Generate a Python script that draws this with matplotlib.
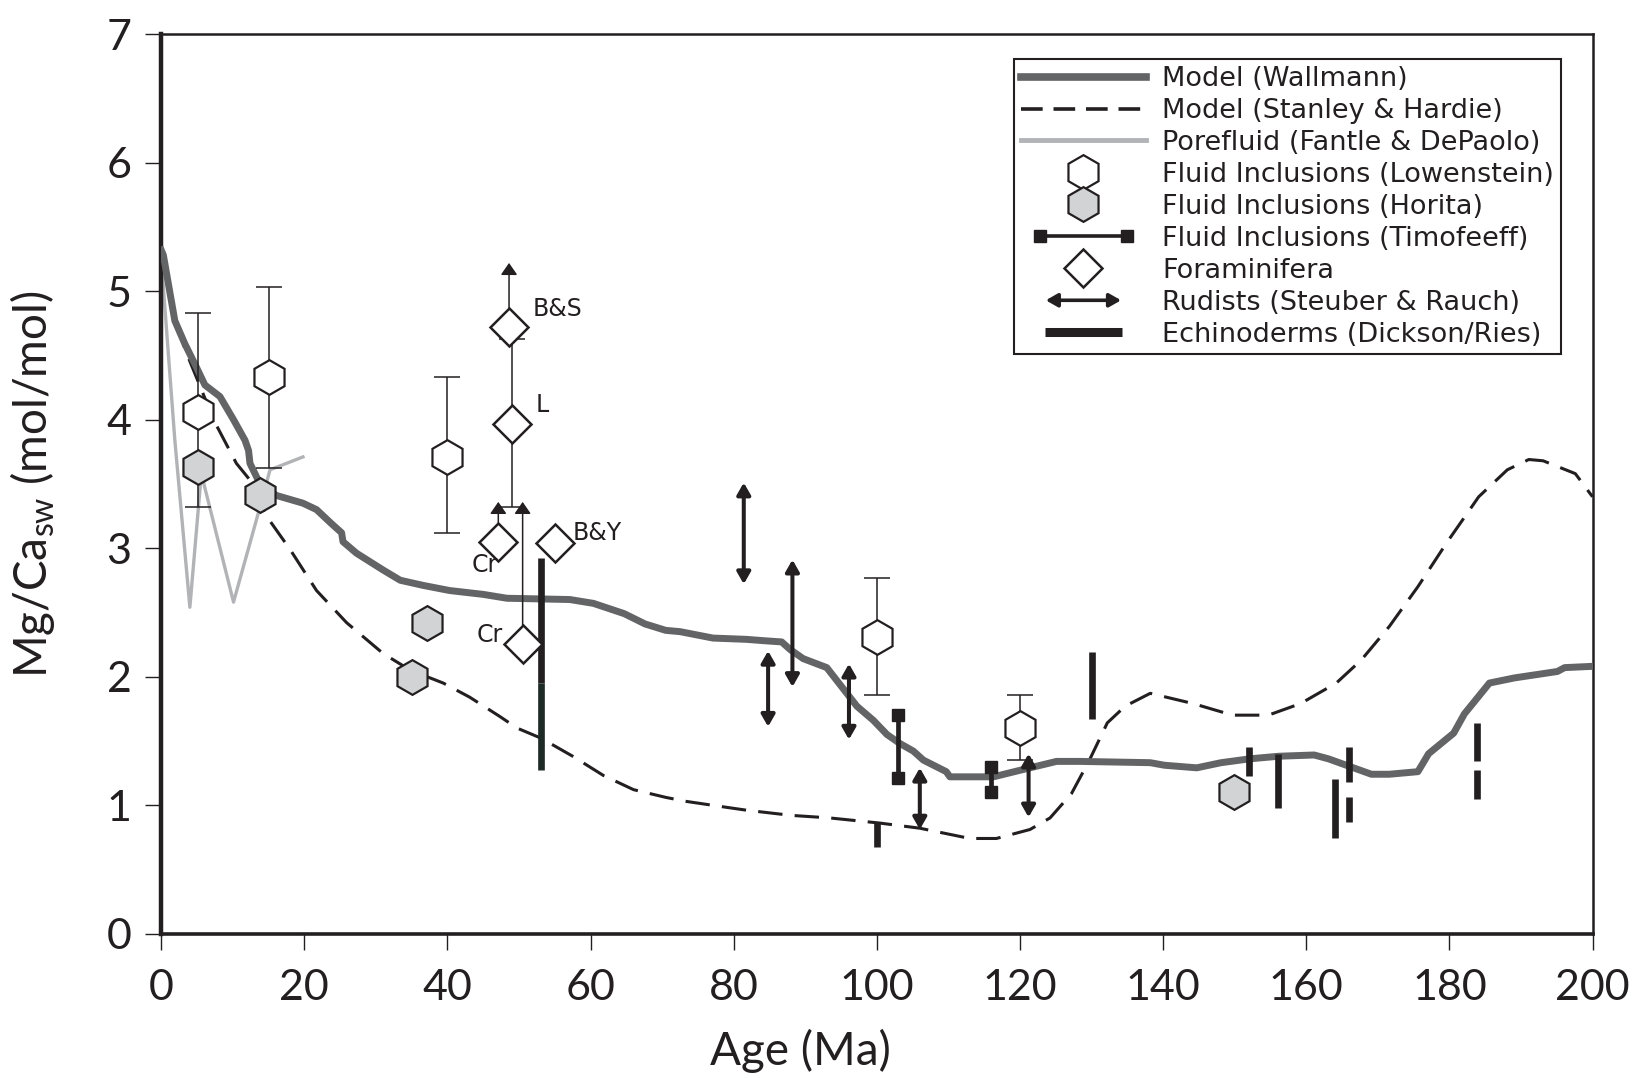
import matplotlib
matplotlib.use("Agg")
import matplotlib.pyplot as plt
from matplotlib.lines import Line2D
from matplotlib.patches import FancyArrowPatch
from matplotlib.legend_handler import HandlerBase

# ---------------- data ----------------
wall_age = [0, 0.3, 1.9, 3.3, 4.9, 6.1, 8.2, 10.1, 11.7, 12.2, 12.4, 13.8, 16.1, 19.8, 21.7, 23.8,
            25.2, 25.4, 27.3, 31.0, 33.4, 36.6, 40.3, 45.0, 48.3, 57.1, 60.4, 64.7, 67.6, 70.5,
            72.5, 77.1, 81.8, 84.1, 86.7, 87.9, 89.7, 93.0, 94.4, 95.8, 97.2, 99.5, 101.4, 103.2,
            105.1, 106.5, 109.7, 110.2, 116.3, 121.4, 125.1, 128.4, 138.2, 140.2, 144.7, 148.1,
            152.1, 156.1, 161.1, 163.1, 165.6, 169.1, 171.6, 175.6, 177.1, 180.6, 182.1, 185.6,
            189.1, 195.1, 196.1, 200]
wall_val = [5.32, 5.28, 4.77, 4.59, 4.41, 4.27, 4.18, 4.0, 3.84, 3.76, 3.66, 3.50, 3.41, 3.35, 3.30,
            3.19, 3.12, 3.05, 2.96, 2.83, 2.75, 2.71, 2.67, 2.64, 2.61, 2.60, 2.57, 2.49, 2.41, 2.36,
            2.35, 2.30, 2.29, 2.28, 2.27, 2.21, 2.14, 2.07, 1.97, 1.87, 1.77, 1.66, 1.55, 1.48,
            1.42, 1.35, 1.26, 1.22, 1.22, 1.29, 1.34, 1.34, 1.33, 1.31, 1.29, 1.33,
            1.36, 1.38, 1.39, 1.36, 1.31, 1.24, 1.24, 1.26, 1.40, 1.56, 1.71, 1.95,
            1.99, 2.04, 2.07, 2.08]

sh_age = [0, 1.5, 3.3, 5.5, 7.3, 10.5, 12.4, 14.7, 18.0, 21.7, 25.9, 31.0, 34.8, 39.4, 43.1, 47.3,
          49.7, 53.1, 57.5, 61.8, 66.0, 70.5, 73.2, 79.3, 81.8, 88.0, 93.4, 100.4, 106.0, 113.0,
          116.7, 121.4, 124.2, 127.2, 129.7, 132.2, 134.7, 138.2, 144.2, 149.7, 154.7, 159.2,
          164.2, 167.7, 171.6, 175.6, 179.6, 184.1, 188.1, 191.1, 193.1, 197.6, 200]
sh_val = [5.3, 4.9, 4.55, 4.25, 4.0, 3.66, 3.53, 3.25, 2.99, 2.67, 2.42, 2.18, 2.05, 1.95, 1.84, 1.69,
          1.60, 1.52, 1.38, 1.23, 1.12, 1.06, 1.03, 0.98, 0.96, 0.92, 0.90, 0.86, 0.82, 0.74,
          0.74, 0.81, 0.90, 1.09, 1.35, 1.64, 1.77, 1.87, 1.79, 1.70, 1.70, 1.79,
          1.95, 2.13, 2.39, 2.70, 3.04, 3.40, 3.61, 3.69, 3.68, 3.58, 3.40]

pf_age = [0, 1.9, 4.0, 5.6, 10.1, 13.8, 15.2, 19.8]
pf_val = [5.25, 3.84, 2.54, 3.58, 2.58, 3.32, 3.61, 3.71]

low_age = [5.2, 15.0, 40.0, 100.0, 120.0]
low_val = [4.06, 4.33, 3.71, 2.31, 1.60]
low_lo = [3.32, 3.62, 3.12, 1.86, 1.35]
low_hi = [4.83, 5.03, 4.33, 2.77, 1.86]

hor_age = [5.2, 13.8, 37.1, 35.0, 149.9]
hor_val = [3.63, 3.41, 2.42, 2.00, 1.10]

tim_age = [103.0, 116.0]
tim_lo = [1.21, 1.105]
tim_hi = [1.70, 1.30]

foram_age = [48.6, 49.0, 47.1, 50.5, 55.0]
foram_val = [4.72, 3.97, 3.05, 2.25, 3.04]
foram_lab = ['B&S', 'L', 'Cr', 'Cr', 'B&Y']
foram_arrow_age = [48.6, 47.1, 50.5]
foram_arrow_from = [4.72, 3.05, 2.25]
foram_arrow_to = [5.22, 3.36, 3.36]
foram_err_age = [49.0]
foram_err_lo = [3.32]
foram_err_hi = [4.63]

rud_age = [81.4, 88.2, 84.8, 96.1, 106.0, 121.2]
rud_lo = [2.72, 1.92, 1.61, 1.51, 0.81, 0.905]
rud_hi = [3.51, 2.91, 2.20, 2.10, 1.29, 1.40]

ech_age = [53.0, 53.0, 100.0, 130.0, 152.0, 156.0, 164.0, 166.0, 166.0, 183.9, 183.9]
ech_lo = [1.95, 1.27, 0.67, 1.67, 1.23, 0.975, 0.74, 1.18, 0.87, 1.34, 1.05]
ech_hi = [2.92, 1.95, 0.86, 2.19, 1.45, 1.40, 1.20, 1.45, 1.06, 1.64, 1.27]
ech_col = ['#231f20', '#1d2a25', '#231f20', '#231f20', '#231f20', '#231f20', '#231f20',
           '#231f20', '#231f20', '#231f20', '#231f20']

x_ticks = [0, 20, 40, 60, 80, 100, 120, 140, 160, 180, 200]
y_ticks = [0, 1, 2, 3, 4, 5, 6, 7]

legend_labels = ['Model (Wallmann)', 'Model (Stanley & Hardie)', 'Porefluid (Fantle & DePaolo)',
                 'Fluid Inclusions (Lowenstein)', 'Fluid Inclusions (Horita)',
                 'Fluid Inclusions (Timofeeff)', 'Foraminifera', 'Rudists (Steuber & Rauch)',
                 'Echinoderms (Dickson/Ries)']

# ---------------- style ----------------
DARK = '#231f20'
WALL = '#636466'
PORE = '#b1b3b6'
GRAYFILL = '#d1d3d4'
AXFONT = 'Lato'
TXFONT = 'DejaVu Sans'

plt.rcParams['mathtext.fontset'] = 'custom'
plt.rcParams['mathtext.rm'] = AXFONT

fig = plt.figure(figsize=(16.32, 10.78), dpi=100)
ax = fig.add_axes([0.0988, 0.1340, 0.8770, 0.8342])

ax.plot(pf_age, pf_val, color=PORE, lw=2.4, zorder=2)
ax.plot(sh_age, sh_val, color=DARK, lw=2.2, ls=(0, (8, 4)), zorder=3)
ax.plot(wall_age, wall_val, color=WALL, lw=5.0, zorder=3, solid_joinstyle='round')

# echinoderms
for a, lo, hi, c in zip(ech_age, ech_lo, ech_hi, ech_col):
    ax.plot([a, a], [lo, hi], color=c, lw=4.8, solid_capstyle='butt', zorder=4)

# rudists
for a, lo, hi in zip(rud_age, rud_lo, rud_hi):
    ax.annotate('', xy=(a, hi), xytext=(a, lo),
                arrowprops=dict(arrowstyle='<|-|>,head_length=0.35,head_width=0.2',
                                mutation_scale=20, lw=2.9, color=DARK,
                                shrinkA=0, shrinkB=0), zorder=5)

# Timofeeff
for a, lo, hi in zip(tim_age, tim_lo, tim_hi):
    ax.plot([a, a], [lo, hi], color=DARK, lw=3.4, marker='s', ms=8.5,
            mfc=DARK, mec=DARK, zorder=5)

# Lowenstein fluid inclusions with error bars
yerr = [[v - l for v, l in zip(low_val, low_lo)], [h - v for v, h in zip(low_val, low_hi)]]
ax.errorbar(low_age, low_val, yerr=yerr, fmt='none', ecolor=DARK, elinewidth=1.1,
            capsize=9.7, capthick=1.1, zorder=5)
ax.plot(low_age, low_val, ls='none', marker='h', ms=25, mfc='white', mec=DARK, mew=1.6, zorder=7)

# Horita
ax.plot(hor_age, hor_val, ls='none', marker='h', ms=25, mfc=GRAYFILL, mec=DARK, mew=1.6, zorder=7)

# foraminifera arrows & error bar
for a, f, t in zip(foram_arrow_age, foram_arrow_from, foram_arrow_to):
    ax.annotate('', xy=(a, t), xytext=(a, f),
                arrowprops=dict(arrowstyle='-|>,head_length=0.36,head_width=0.25',
                                mutation_scale=20, lw=1.1, color=DARK,
                                shrinkA=0, shrinkB=0), zorder=5)
ax.errorbar(foram_err_age, [(l + h) / 2 for l, h in zip(foram_err_lo, foram_err_hi)],
            yerr=[(h - l) / 2 for l, h in zip(foram_err_lo, foram_err_hi)], fmt='none',
            ecolor=DARK, elinewidth=1.1, capsize=9.7, capthick=1.1, zorder=5)
ax.plot(foram_age, foram_val, ls='none', marker='D', ms=19, mfc='white', mec=DARK, mew=1.8, zorder=8)

lab_off = [(17, 13), (17, 13), (-19.5, -16.5), (-33, 7), (12.5, 7)]
for a, v, lab, off in zip(foram_age, foram_val, foram_lab, lab_off):
    t = ax.annotate(lab, xy=(a, v), xytext=off, textcoords='offset points', ha='left', va='center',
                    fontsize=17, family=TXFONT, color=DARK)
    t.set_zorder(12)

# axes styling
ax.set_xlim(0, 200)
ax.set_ylim(0, 7)
ax.set_xticks(x_ticks)
ax.set_yticks(y_ticks)
ax.tick_params(axis='both', direction='out', length=11.5, width=1.0, color=DARK,
               labelsize=31, labelcolor=DARK)
ax.tick_params(axis='x', pad=14)
ax.tick_params(axis='y', pad=10)
for lab in ax.get_xticklabels() + ax.get_yticklabels():
    lab.set_family(AXFONT)
ax.spines['left'].set_linewidth(3.2)
ax.spines['bottom'].set_linewidth(2.6)
ax.spines['top'].set_linewidth(1.8)
ax.spines['right'].set_linewidth(1.8)
for s in ax.spines.values():
    s.set_color(DARK)

ax.set_xlabel('Age (Ma)', family=AXFONT, fontsize=33, color=DARK)
ax.set_ylabel(r'Mg/Ca$_{\mathregular{sw}}$ (mol/mol)', family=AXFONT, fontsize=33, color=DARK)
ax.xaxis.set_label_coords(0.4466, -0.106)
ax.yaxis.set_label_coords(-0.073, 0.5)


# ---------------- legend ----------------
class HBar(HandlerBase):
    def __init__(self, frac, kind):
        super().__init__()
        self.frac = frac
        self.kind = kind

    def create_artists(self, legend, orig_handle, xdescent, ydescent, width, height, fontsize, trans):
        cx = 0.5 * width - xdescent
        cy = 0.5 * height - ydescent
        half = 0.5 * self.frac * width
        if self.kind == 'timo':
            ln = Line2D([cx - half, cx + half], [cy, cy], color=DARK, lw=2.6, marker='s', ms=8.5,
                        mfc=DARK, mec=DARK)
            ln.set_transform(trans)
            return [ln]
        if self.kind == 'arrow':
            ar = FancyArrowPatch((cx - half, cy), (cx + half, cy),
                                 arrowstyle='<|-|>,head_length=0.35,head_width=0.2',
                                 mutation_scale=20, lw=2.6, color=DARK, shrinkA=0, shrinkB=0)
            ar.set_transform(trans)
            return [ar]
        ln = Line2D([cx - half, cx + half], [cy, cy], color=DARK, lw=6.5, solid_capstyle='butt')
        ln.set_transform(trans)
        return [ln]


class TimoKey: pass
class RudKey: pass
class EchKey: pass

tk, rk, ek = TimoKey(), RudKey(), EchKey()
handles = [
    Line2D([], [], color=WALL, lw=5.5),
    Line2D([], [], color=DARK, lw=2.6, ls=(0, (6, 3))),
    Line2D([], [], color=PORE, lw=3.5),
    Line2D([], [], ls='none', marker='h', ms=25, mfc='white', mec=DARK, mew=1.6),
    Line2D([], [], ls='none', marker='h', ms=25, mfc=GRAYFILL, mec=DARK, mew=1.6),
    tk,
    Line2D([], [], ls='none', marker='D', ms=19, mfc='white', mec=DARK, mew=1.8),
    rk,
    ek,
]
leg = ax.legend(handles, legend_labels, loc='upper right', bbox_to_anchor=(0.978, 0.9722),
                borderaxespad=0, frameon=True, fancybox=False, framealpha=1,
                edgecolor=DARK, numpoints=1, handlelength=4.63, handletextpad=0.6,
                borderpad=0.25, labelspacing=0.22,
                prop={'family': TXFONT, 'size': 19.5},
                handler_map={tk: HBar(0.70, 'timo'), rk: HBar(0.60, 'arrow'), ek: HBar(0.62, 'ech')})
leg.get_frame().set_linewidth(1.5)
for t in leg.get_texts():
    t.set_color(DARK)
leg.set_zorder(10)

fig.savefig('out.png', dpi=100)
